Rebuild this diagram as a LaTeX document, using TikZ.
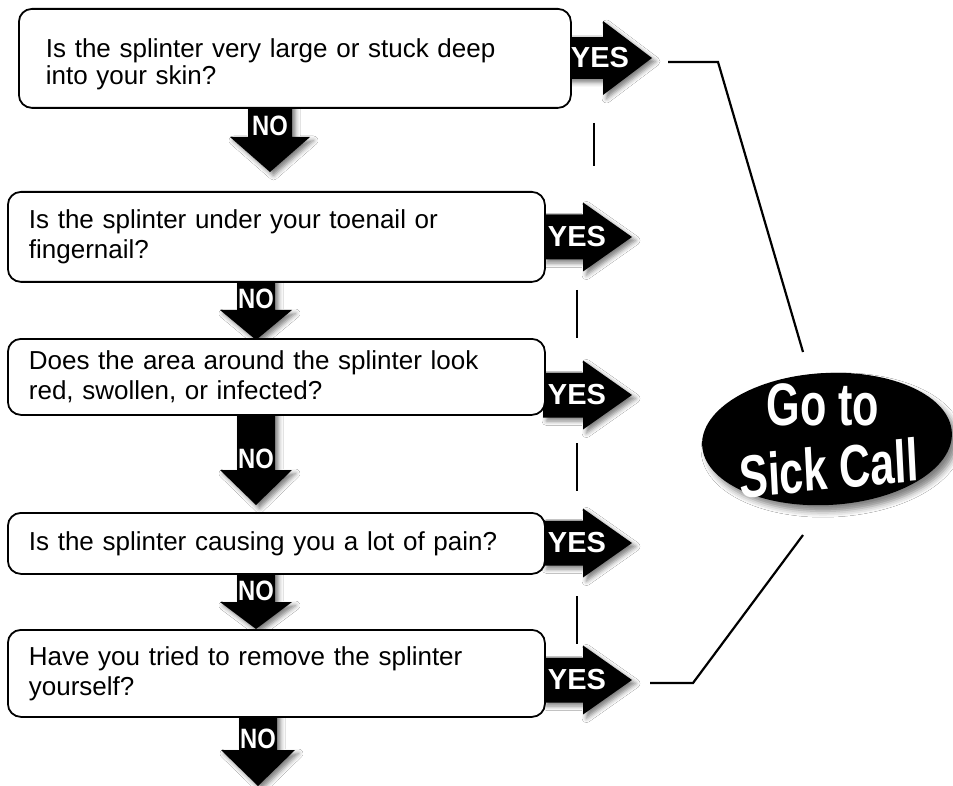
\documentclass[tikz,border=0pt]{standalone}
\usepackage{fontspec}
\setmainfont{Liberation Sans}
\usetikzlibrary{shapes.geometric,shadows.blur}
\newcommand\qtxtfont{\fontsize{26}{30}\selectfont}
\newcommand\yesarr[5]{% name, x0, yc, body half, head half
  \fill[arrowshape] (#2,#3-#4) -- (#2+40,#3-#4) -- (#2+40,#3-#5) -- (#2+89,#3) -- (#2+40,#3+#5) -- (#2+40,#3+#4) -- (#2,#3+#4) -- cycle;
  \coordinate (#1tip) at (#2+89,#3);
}
\newcommand\noarr[7]{% name, xc, top, base, tip, body half, head half
  \fill[arrowshape] (#2-#6,#3) -- (#2+#6,#3) -- (#2+#6,#4) -- (#2+#7,#4) -- (#2,#5) -- (#2-#7,#4) -- (#2-#6,#4) -- cycle;
  \node[nolbl] (#1) at (#2,#4-11) {NO};
}
\begin{document}
\begin{tikzpicture}[x=1pt,y=-1pt,
  qbox/.style={draw=black, line width=1.8pt, rounded corners=13pt, fill=white, anchor=north west, align=left, font=\qtxtfont, inner ysep=0pt},
  arrowshape/.style={fill=black, blur shadow={shadow xshift=3.5pt, shadow yshift=-3.5pt, shadow blur radius=4.5pt, shadow opacity=50}},
  yeslbl/.style={text=white, font=\bfseries\fontsize{29}{29}\selectfont, inner sep=0pt},
  nolbl/.style={text=white, font=\bfseries\fontsize{28}{28}\selectfont, inner sep=0pt, xscale=0.85},
  gofont/.style={text=white, font=\bfseries\fontsize{60}{60}\selectfont, inner sep=0pt, xscale=0.72},
  conn/.style={draw=black, line width=2.2pt},
  dashline/.style={draw=black, line width=2.6pt}
]
\useasboundingbox[fill=white] (0,0) rectangle (953,786);

% dashed guide
\draw[dashline] (594,123) -- (594,166);
\draw[dashline, dash pattern=on 48pt off 105pt] (577,290) -- (577,645);

% YES arrows
\yesarr{yesA}{563}{58}{21}{37}
\yesarr{yesB}{543}{237}{22.5}{34.5}
\yesarr{yesC}{543}{395}{22.5}{34.5}
\yesarr{yesD}{543}{543}{22.5}{34.5}
\yesarr{yesE}{543}{680}{22.5}{34.5}

% NO arrows
\noarr{noA}{270}{100}{137}{172}{22}{40}
\noarr{noB}{256}{278}{310}{340}{19}{36}
\noarr{noC}{256}{410}{470}{505}{19}{36}
\noarr{noD}{256}{570}{602}{629}{19}{36}
\noarr{noE}{258}{712}{750}{786}{19}{37}

% question boxes
\node[qbox, minimum width=552pt, minimum height=99pt, inner xsep=27pt, text width=498pt] (q1) at (18,8)
  {\rule{0pt}{30pt}Is the splinter very large or stuck deep\\[-3pt]into your skin?};
\node[qbox, minimum width=537pt, minimum height=90pt, inner xsep=21pt, text width=495pt] (q2) at (7,191)
  {Is the splinter under your toenail or\\fingernail?};
\node[qbox, minimum width=537pt, minimum height=76pt, inner xsep=21pt, text width=495pt] (q3) at (7,338)
  {Does the area around the splinter look\\red, swollen, or infected?};
\node[qbox, minimum width=537pt, minimum height=61pt, inner xsep=21pt, text width=495pt] (q4) at (7,512)
  {Is the splinter causing you a lot of pain?};
\node[qbox, minimum width=537pt, minimum height=87pt, inner xsep=21pt, text width=495pt] (q5) at (7,629)
  {Have you tried to remove the splinter\\yourself?};

% YES labels
\node[yeslbl] (yA) at (600,58) {YES};
\node[yeslbl] (yB) at (577,237) {YES};
\node[yeslbl] (yC) at (577,395) {YES};
\node[yeslbl] (yD) at (577,543) {YES};
\node[yeslbl] (yE) at (577,680) {YES};

% Go to Sick Call
\node[ellipse, fill=black, minimum width=250pt, minimum height=132pt, rotate=3,
  blur shadow={shadow xshift=5pt, shadow yshift=-6pt, shadow blur radius=6pt, shadow opacity=50}] (sick) at (827,439) {};
\node[gofont] (go) at (823,405) {Go to};
\node[gofont, rotate=4] (sc) at (829,468) {Sick Call};

% connectors
\coordinate (t1) at (668,62);
\coordinate (b1) at (718,62);
\coordinate (e1) at (803,352);
\coordinate (t2) at (650,683);
\coordinate (b2) at (693,683);
\coordinate (e2) at (803,535);
\draw[conn] (t1) -- (b1) -- (e1);
\draw[conn] (t2) -- (b2) -- (e2);
\end{tikzpicture}
\end{document}
